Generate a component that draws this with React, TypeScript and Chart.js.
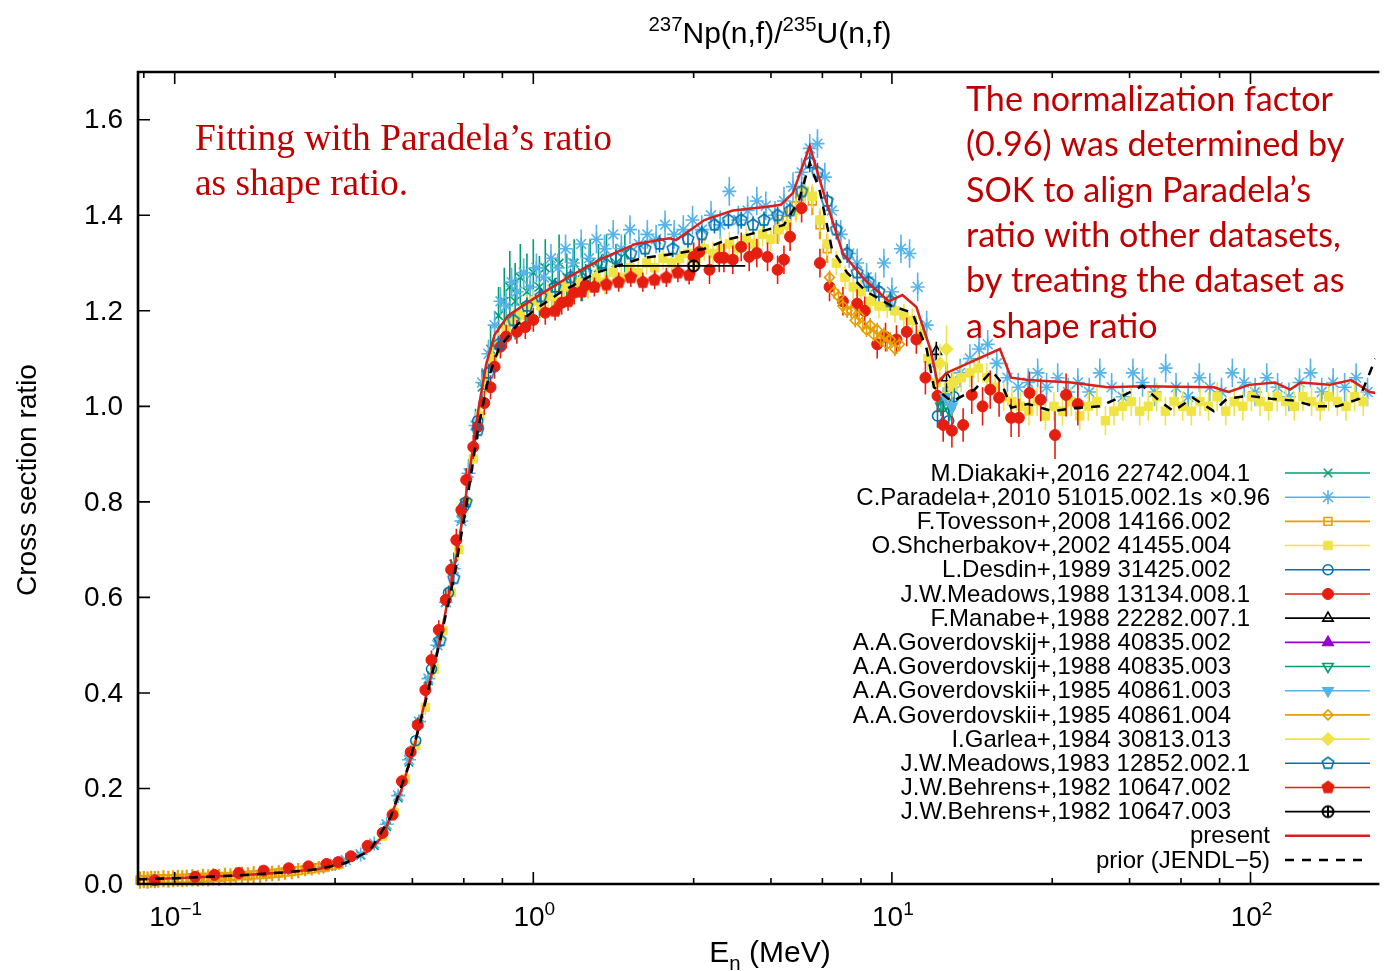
import React, { useEffect, useRef } from "react";
import { Chart, registerables } from "chart.js";
import { drawPoint } from "chart.js/helpers";

Chart.register(...registerables);

// ---------------- axis / tick data ----------------
const X_MIN = 0.079;
const X_MAX = 223;
const Y_MIN = 0;
const Y_MAX = 1.7;
const yTickValues = [0, 0.2, 0.4, 0.6, 0.8, 1.0, 1.2, 1.4, 1.6];
const yTickLabels = ["0.0", "0.2", "0.4", "0.6", "0.8", "1.0", "1.2", "1.4", "1.6"];
const xMajorValues = [0.1, 1, 10, 100];
const xMajorExponents = ["\u22121", "0", "1", "2"];
const xMinorMultipliers = [2.8, 4.6, 6.4, 8.2];

const titleParts = [
  { t: "237", k: "sup" },
  { t: "Np(n,f)/", k: "n" },
  { t: "235", k: "sup" },
  { t: "U(n,f)", k: "n" },
];
const xTitleParts = [
  { t: "E", k: "n" },
  { t: "n", k: "sub" },
  { t: " (MeV)", k: "n" },
];
const yTitle = "Cross section ratio";
const noteLeft = ["Fitting with Paradela\u2019s ratio", "as shape ratio."];
const noteRight = [
  "The normalization factor",
  "(0.96) was determined by",
  "SOK to align Paradela\u2019s",
  "ratio with other datasets,",
  "by treating the dataset as",
  "a shape ratio",
];

// ---------------- series data (E in MeV, ratio, y-uncertainty) ----------------
const diakakiE = [0.33,0.36,0.39,0.42,0.45,0.48,0.51,0.54,0.57,0.60,0.63,0.66,0.69,0.72,0.76,0.80,0.83,0.86,0.89,0.92,0.96,1.00,1.04,1.08,1.13,1.18,1.24,1.30,1.37,1.44,1.52,1.60,1.70,1.80];
const diakakiR = [0.060,0.080,0.120,0.180,0.255,0.335,0.425,0.505,0.590,0.670,0.765,0.860,0.960,1.040,1.120,1.190,1.220,1.250,1.220,1.270,1.240,1.280,1.250,1.290,1.260,1.300,1.270,1.300,1.280,1.300,1.290,1.310,1.300,1.320];
const diakakiErr = [0.005,0.006,0.008,0.010,0.012,0.015,0.018,0.020,0.022,0.024,0.026,0.030,0.035,0.040,0.050,0.060,0.070,0.075,0.080,0.070,0.080,0.070,0.065,0.060,0.055,0.060,0.050,0.050,0.060,0.050,0.050,0.050,0.040,0.040];

const paradelaE = [0.26,0.28,0.30,0.33,0.36,0.39,0.42,0.45,0.48,0.51,0.54,0.57,0.60,0.63,0.66,0.69,0.72,0.75,0.78,0.81,0.84,0.87,0.90,0.94,0.98,1.02,1.07,1.12,1.17,1.23,1.29,1.36,1.43,1.50,1.58,1.67,1.76,1.86,1.97,2.08,2.20,2.33,2.47,2.62,2.78,2.95,3.13,3.32,3.52,3.73,3.96,4.20,4.45,4.72,5.00,5.30,5.60,5.90,6.20,6.50,6.80,7.20,7.60,8.00,8.50,9.00,9.50,10.0,10.6,11.2,11.8,12.5,13.2,13.9,14.7,15.5,16.5,17.5,18.5,19.6,21.0,22.5,24.0,25.5,27.0,29.0,31.0,33.0,35.5,38.0,41.0,44.0,47.0,50.0,54.0,58.0,62.0,67.0,72.0,77.0,83.0,89.0,96.0,103,111,119,128,137,147,158,170,183,197,212];
const paradelaR = [0.036,0.042,0.050,0.062,0.085,0.125,0.185,0.260,0.340,0.430,0.500,0.590,0.660,0.760,0.860,0.960,1.050,1.110,1.170,1.220,1.210,1.260,1.240,1.280,1.250,1.290,1.270,1.310,1.290,1.330,1.300,1.340,1.310,1.350,1.330,1.360,1.330,1.370,1.340,1.360,1.350,1.380,1.360,1.370,1.390,1.370,1.400,1.380,1.450,1.390,1.410,1.430,1.420,1.400,1.430,1.460,1.490,1.540,1.550,1.480,1.410,1.360,1.320,1.300,1.270,1.250,1.300,1.240,1.330,1.320,1.250,1.170,1.090,1.010,1.040,1.070,1.100,1.120,1.130,1.090,1.060,1.040,1.050,1.070,1.040,1.060,1.030,1.050,1.030,1.070,1.040,1.020,1.070,1.050,1.030,1.080,1.040,1.020,1.060,1.040,1.030,1.070,1.050,1.030,1.060,1.040,1.020,1.050,1.070,1.030,1.050,1.040,1.060,1.030];
const paradelaErr = [0.003,0.004,0.004,0.005,0.006,0.008,0.010,0.012,0.014,0.016,0.018,0.020,0.020,0.022,0.024,0.026,0.028,0.030,0.030,0.030,0.030,0.030,0.030,0.030,0.030,0.030,0.030,0.030,0.030,0.030,0.030,0.030,0.030,0.030,0.030,0.030,0.030,0.030,0.030,0.030,0.030,0.030,0.030,0.030,0.030,0.030,0.030,0.030,0.030,0.030,0.030,0.030,0.030,0.030,0.030,0.030,0.030,0.030,0.030,0.030,0.030,0.030,0.030,0.030,0.030,0.030,0.030,0.030,0.030,0.030,0.030,0.030,0.030,0.030,0.030,0.030,0.030,0.030,0.030,0.030,0.030,0.030,0.030,0.030,0.030,0.030,0.030,0.030,0.030,0.030,0.030,0.030,0.030,0.030,0.030,0.030,0.030,0.030,0.030,0.030,0.030,0.030,0.030,0.030,0.030,0.030,0.030,0.030,0.030,0.030,0.030,0.030,0.030,0.030];

const tovessonE = [0.080,0.082,0.084,0.086,0.088,0.090,0.093,0.096,0.099,0.102,0.105,0.108,0.112,0.116,0.120,0.124,0.128,0.133,0.138,0.143,0.148,0.154,0.160,0.166,0.173,0.180,0.187,0.195,0.203,0.212,0.221,0.231,0.241,0.252,0.263,0.275,0.287,4.8,5.1,5.4,5.7,6.0,6.3,6.6];
const tovessonR = [0.008,0.009,0.008,0.010,0.009,0.010,0.011,0.010,0.011,0.012,0.011,0.012,0.013,0.012,0.014,0.013,0.015,0.014,0.016,0.015,0.017,0.018,0.017,0.019,0.020,0.021,0.022,0.023,0.025,0.026,0.028,0.030,0.032,0.034,0.036,0.039,0.042,1.37,1.39,1.42,1.45,1.43,1.38,1.33];
const tovessonErr = [0.018,0.018,0.018,0.018,0.018,0.018,0.018,0.018,0.018,0.018,0.018,0.018,0.018,0.018,0.018,0.018,0.018,0.018,0.018,0.018,0.018,0.018,0.018,0.018,0.018,0.016,0.016,0.016,0.016,0.016,0.016,0.014,0.014,0.014,0.012,0.012,0.012,0.03,0.03,0.03,0.03,0.03,0.03,0.03];

const shcherbakovE = [0.38,0.41,0.44,0.47,0.50,0.53,0.56,0.59,0.62,0.65,0.68,0.71,0.74,0.77,0.80,0.84,0.88,0.92,0.96,1.00,1.05,1.10,1.16,1.22,1.28,1.35,1.42,1.50,1.58,1.67,1.76,1.86,1.96,2.07,2.18,2.30,2.43,2.56,2.70,2.85,3.00,3.17,3.34,3.52,3.71,3.92,4.13,4.36,4.60,4.85,5.10,5.40,5.70,6.00,6.30,6.60,7.00,7.40,7.80,8.20,8.70,9.20,9.70,10.2,10.8,11.4,12.0,12.6,13.3,14.0,14.8,15.6,16.5,17.4,18.4,19.4,20.5,21.6,22.8,24.1,25.4,26.8,28.3,29.9,31.6,33.4,35.3,37.3,39.4,41.6,44.0,46.5,49.1,51.9,54.8,57.9,61.2,64.7,68.4,72.3,76.4,80.7,85.3,90.1,95.2,100.6,106.3,112.3,118.7,125.4,132.5,140.0,148.0,156.4,165.3,174.7,184.6,195.1,206.2];
const shcherbakovR = [0.10,0.15,0.22,0.29,0.37,0.45,0.53,0.61,0.70,0.80,0.89,0.98,1.05,1.10,1.13,1.16,1.18,1.19,1.21,1.22,1.21,1.23,1.22,1.25,1.24,1.26,1.25,1.27,1.26,1.28,1.27,1.29,1.28,1.30,1.29,1.31,1.30,1.31,1.32,1.31,1.33,1.32,1.33,1.34,1.33,1.35,1.34,1.36,1.35,1.37,1.38,1.41,1.45,1.44,1.39,1.34,1.30,1.27,1.25,1.24,1.22,1.21,1.21,1.20,1.19,1.18,1.15,1.10,1.05,1.02,1.04,1.06,1.07,1.08,1.06,1.04,1.02,1.01,1.00,0.99,1.01,0.98,1.00,0.99,1.01,0.98,1.00,1.01,0.97,0.99,1.00,1.01,0.99,1.00,1.02,0.99,1.01,1.00,0.99,1.01,1.00,1.02,0.99,1.01,1.00,1.02,1.01,1.00,1.02,1.01,1.00,1.02,1.01,1.00,1.02,1.01,1.00,1.02,1.01];
const shcherbakovErr = [0.008,0.010,0.012,0.014,0.016,0.018,0.020,0.020,0.022,0.024,0.025,0.025,0.025,0.025,0.025,0.025,0.025,0.025,0.025,0.025,0.025,0.025,0.025,0.025,0.025,0.025,0.025,0.025,0.025,0.025,0.025,0.025,0.025,0.025,0.025,0.025,0.025,0.025,0.025,0.025,0.025,0.025,0.025,0.025,0.025,0.025,0.025,0.025,0.025,0.025,0.025,0.025,0.025,0.025,0.025,0.025,0.025,0.025,0.025,0.025,0.025,0.025,0.025,0.025,0.025,0.025,0.025,0.025,0.030,0.030,0.030,0.030,0.030,0.030,0.030,0.030,0.030,0.030,0.030,0.030,0.030,0.030,0.030,0.030,0.030,0.030,0.030,0.030,0.030,0.030,0.030,0.030,0.030,0.030,0.030,0.030,0.030,0.030,0.030,0.030,0.030,0.030,0.030,0.030,0.030,0.030,0.030,0.030,0.030,0.030,0.030,0.030,0.030,0.030,0.030,0.030,0.030,0.030,0.030];

const desdinE = [0.47,0.52,0.58,0.64,0.70,13.4,13.9,14.4,14.9];
const desdinR = [0.30,0.45,0.61,0.79,0.97,0.98,1.00,0.97,1.02];
const desdinErr = [0.010,0.012,0.015,0.018,0.020,0.025,0.025,0.025,0.025];

const meadows88E = [0.088,0.114,0.129,0.151,0.177,0.208,0.236,0.265,0.286,0.31,0.345,0.38,0.405,0.43,0.455,0.476,0.50,0.52,0.545,0.57,0.59,0.61,0.63,0.65,0.68,0.70,0.73,0.76,0.78,0.81,0.84,0.90,0.95,1.00,1.08,1.20,1.30,1.40,2.80,2.90,3.10,3.30,3.40,3.60,3.80,4.00,4.20,4.50,4.80,5.00,5.20,5.60,6.30,6.70,7.30,8.00,8.40,9.10,9.60,10.3,11.0,11.7,12.4,13.4,13.9,14.7,15.8,16.7,17.9,18.8,19.9,21.5,22.6,24.2,26.0,28.5,30.6,33.0];
const meadows88R = [0.008,0.015,0.019,0.023,0.028,0.033,0.037,0.042,0.046,0.058,0.080,0.107,0.145,0.215,0.276,0.333,0.406,0.469,0.532,0.595,0.658,0.720,0.783,0.846,0.915,0.957,1.007,1.040,1.083,1.125,1.146,1.156,1.166,1.181,1.196,1.217,1.238,1.254,1.313,1.323,1.286,1.311,1.311,1.307,1.334,1.313,1.321,1.313,1.286,1.307,1.355,1.415,1.300,1.250,1.220,1.215,1.200,1.130,1.145,1.140,1.156,1.140,1.060,1.022,0.961,0.949,0.961,1.024,1.000,1.035,1.018,0.976,0.976,1.028,1.014,0.940,1.024,1.005];
const meadows88Err = [0.003,0.003,0.003,0.003,0.003,0.004,0.004,0.004,0.005,0.006,0.007,0.008,0.010,0.012,0.014,0.016,0.018,0.020,0.020,0.022,0.022,0.024,0.024,0.025,0.025,0.025,0.025,0.025,0.025,0.025,0.025,0.025,0.025,0.025,0.025,0.025,0.025,0.025,0.030,0.030,0.030,0.030,0.030,0.030,0.030,0.030,0.030,0.030,0.030,0.030,0.030,0.030,0.030,0.030,0.030,0.030,0.030,0.030,0.030,0.030,0.030,0.030,0.035,0.035,0.035,0.035,0.035,0.040,0.040,0.040,0.040,0.040,0.040,0.045,0.045,0.050,0.045,0.045];

const manabeE = [13.3, 14.2];
const manabeR = [1.115, 1.060];
const manabeErr = [0.020, 0.030];

const gov835a_E: number[] = [];
const gov835a_R: number[] = [];
const gov835a_Err: number[] = [];

const gov835b_E = [13.7, 14.5];
const gov835b_R = [1.00, 0.99];
const gov835b_Err = [0.02, 0.02];

const gov861a_E = [14.1, 14.7];
const gov861a_R = [1.02, 1.00];
const gov861a_Err = [0.02, 0.02];

const gov861b_E = [6.7,6.9,7.1,7.3,7.5,7.7,7.9,8.1,8.3,8.5,8.7,8.9,9.1,9.3,9.5,9.7,9.9,10.2,10.5];
const gov861b_R = [1.27,1.24,1.23,1.21,1.20,1.20,1.18,1.19,1.17,1.16,1.17,1.15,1.16,1.14,1.15,1.13,1.14,1.12,1.13];
const gov861b_Err = [0.015,0.015,0.015,0.015,0.015,0.015,0.015,0.015,0.015,0.015,0.015,0.015,0.015,0.015,0.015,0.015,0.015,0.015,0.015];

const garleaE = [13.6, 14.2, 14.8];
const garleaR = [1.09, 1.12, 1.05];
const garleaErr = [0.04, 0.05, 0.03];

const meadows83E = [0.55,0.60,0.65,0.70,0.75,0.80,0.88,0.96,1.05,1.15,1.27,1.40,1.55,1.70,1.87,2.05,2.25,2.45,2.70,2.95,3.20,3.50,3.80,4.10,4.40,4.80,5.20,5.60,5.90,6.20,6.60,7.00,7.50,8.00,8.60,9.20,9.90];
const meadows83R = [0.51,0.64,0.80,0.95,1.07,1.13,1.18,1.21,1.23,1.25,1.27,1.28,1.30,1.31,1.32,1.33,1.34,1.33,1.35,1.36,1.38,1.39,1.39,1.38,1.39,1.40,1.41,1.45,1.51,1.49,1.43,1.37,1.32,1.28,1.26,1.24,1.22];
const meadows83Err = [0.012,0.014,0.016,0.018,0.018,0.018,0.018,0.018,0.018,0.018,0.018,0.018,0.018,0.018,0.018,0.018,0.018,0.018,0.018,0.018,0.018,0.018,0.018,0.018,0.018,0.018,0.018,0.020,0.020,0.020,0.020,0.020,0.020,0.020,0.020,0.020,0.020];

const behrens2E = [1.15,1.25,1.36,1.48,1.60,1.73,1.87,2.02,2.18,2.35,2.53,2.72];
const behrens2R = [1.20,1.22,1.24,1.25,1.255,1.26,1.27,1.26,1.265,1.27,1.28,1.275];
const behrens2Err = [0.02,0.02,0.02,0.02,0.02,0.02,0.02,0.02,0.02,0.02,0.02,0.02];

const behrens3E = [2.8];
const behrens3R = [1.294];
const behrens3Err = [0.008];
const behrens3ELow = [1.69];
const behrens3EHigh = [3.9];

const presentE = [0.079,0.10,0.15,0.20,0.25,0.30,0.35,0.38,0.43,0.47,0.505,0.545,0.58,0.615,0.645,0.675,0.705,0.74,0.78,0.85,1.0,1.25,1.56,1.93,2.4,2.5,3.0,3.6,4.5,4.9,5.3,5.9,6.55,7.3,8.4,9.8,10.7,11.7,12.8,13.4,14.2,20.0,21.5,24.0,31.6,40.0,50.0,79.0,87.0,99.0,117,129,138,166,191,215,223];
const presentR = [0.010,0.012,0.018,0.024,0.031,0.045,0.070,0.100,0.200,0.300,0.400,0.500,0.600,0.700,0.800,0.900,1.000,1.090,1.150,1.190,1.225,1.270,1.310,1.340,1.352,1.348,1.390,1.410,1.418,1.422,1.447,1.545,1.430,1.320,1.265,1.220,1.233,1.208,1.120,1.050,1.070,1.120,1.060,1.055,1.050,1.040,1.042,1.040,1.030,1.045,1.050,1.035,1.050,1.045,1.055,1.030,1.028];

const priorE = [0.079,0.10,0.15,0.20,0.25,0.30,0.35,0.40,0.45,0.50,0.55,0.60,0.65,0.70,0.75,0.80,0.90,1.0,1.2,1.5,2.0,2.5,3.0,3.5,4.0,4.5,5.0,5.5,5.9,6.3,6.8,7.5,8.5,10.0,11.4,12.5,13.1,14.7,17.0,19.0,20.2,21.5,24.0,28.0,33.0,38.0,43.0,50.0,56.0,61.0,69.0,79.0,86.0,99.0,114,132,152,175,201,215,223];
const priorR = [0.010,0.012,0.018,0.024,0.031,0.044,0.070,0.140,0.250,0.380,0.510,0.640,0.790,0.950,1.060,1.120,1.170,1.200,1.240,1.280,1.310,1.320,1.330,1.350,1.360,1.370,1.380,1.430,1.510,1.450,1.330,1.280,1.240,1.210,1.196,1.120,1.040,1.010,1.035,1.074,1.050,0.997,1.005,0.990,0.997,1.000,1.018,1.043,1.010,0.990,1.018,0.990,1.016,1.022,1.016,1.012,1.000,1.000,1.016,1.070,1.100];

// ---------------- styles ----------------
const FONT = '"Liberation Sans", Arial, Helvetica, sans-serif';
const W = 1384;
const H = 971;
const PLOT_LEFT = 138;
const PLOT_TOP = 72;
const PLOT_BOTTOM = 884;

type Series = {
  label: string;
  E: number[];
  R: number[];
  err: number[];
  eLo?: number[];
  eHi?: number[];
  color: string;
  marker: string;
  filled: boolean;
  radius: number;
  rotation?: number;
  shift: number;
};

const seriesList: Series[] = [
  { label: "M.Diakaki+,2016 22742.004.1", E: diakakiE, R: diakakiR, err: diakakiErr, color: "#009e73", marker: "crossRot", filled: false, radius: 6, shift: 19 },
  { label: "C.Paradela+,2010 51015.002.1s \u00d70.96", E: paradelaE, R: paradelaR, err: paradelaErr, color: "#56b4e9", marker: "star", filled: false, radius: 7, shift: 39 },
  { label: "F.Tovesson+,2008 14166.002", E: tovessonE, R: tovessonR, err: tovessonErr, color: "#e69f00", marker: "rect", filled: false, radius: 5.5, shift: 0 },
  { label: "O.Shcherbakov+,2002 41455.004", E: shcherbakovE, R: shcherbakovR, err: shcherbakovErr, color: "#f0e442", marker: "rect", filled: true, radius: 6, shift: 0 },
  { label: "L.Desdin+,1989 31425.002", E: desdinE, R: desdinR, err: desdinErr, color: "#0072b2", marker: "circle", filled: false, radius: 5, shift: 0 },
  { label: "J.W.Meadows,1988 13134.008.1", E: meadows88E, R: meadows88R, err: meadows88Err, color: "#e51e10", marker: "circle", filled: true, radius: 5.5, shift: 19 },
  { label: "F.Manabe+,1988 22282.007.1", E: manabeE, R: manabeR, err: manabeErr, color: "#000000", marker: "triangle", filled: false, radius: 6, shift: 19 },
  { label: "A.A.Goverdovskij+,1988 40835.002", E: gov835a_E, R: gov835a_R, err: gov835a_Err, color: "#9400d3", marker: "triangle", filled: true, radius: 6, shift: 0 },
  { label: "A.A.Goverdovskij+,1988 40835.003", E: gov835b_E, R: gov835b_R, err: gov835b_Err, color: "#009e73", marker: "triangle", filled: false, radius: 6, rotation: 180, shift: 0 },
  { label: "A.A.Goverdovskii+,1985 40861.003", E: gov861a_E, R: gov861a_R, err: gov861a_Err, color: "#56b4e9", marker: "triangle", filled: true, radius: 6, rotation: 180, shift: 0 },
  { label: "A.A.Goverdovskii+,1985 40861.004", E: gov861b_E, R: gov861b_R, err: gov861b_Err, color: "#e69f00", marker: "rectRot", filled: false, radius: 5, shift: 0 },
  { label: "I.Garlea+,1984 30813.013", E: garleaE, R: garleaR, err: garleaErr, color: "#f0e442", marker: "rectRot", filled: true, radius: 6, shift: 0 },
  { label: "J.W.Meadows,1983 12852.002.1", E: meadows83E, R: meadows83R, err: meadows83Err, color: "#0072b2", marker: "pentagon", filled: false, radius: 6, shift: 19 },
  { label: "J.W.Behrens+,1982 10647.002", E: behrens2E, R: behrens2R, err: behrens2Err, color: "#e51e10", marker: "pentagon", filled: true, radius: 6, shift: 0 },
  { label: "J.W.Behrens+,1982 10647.003", E: behrens3E, R: behrens3R, err: behrens3Err, eLo: behrens3ELow, eHi: behrens3EHigh, color: "#000000", marker: "circlePlus", filled: false, radius: 6, shift: 0 },
];

const lineSeries = [
  { label: "present", E: presentE, R: presentR, color: "#d9201c", width: 2.5, dash: [] as number[], shift: 39 },
  { label: "prior (JENDL\u22125)", E: priorE, R: priorR, color: "#000000", width: 2.5, dash: [9, 8], shift: 39 },
];

const LEGEND = { top: 473, step: 24.19, textRight: 1231, lineX0: 1285, lineX1: 1370, markX: 1328, font: 24 };

// ---------------- helpers ----------------
function makeMarker(kind: string, color: string, filled: boolean, r: number): HTMLCanvasElement {
  const lw = 1.6;
  const size = Math.ceil(2 * r + 2 * lw + 2);
  const c = document.createElement("canvas");
  c.width = size;
  c.height = size;
  const g = c.getContext("2d")!;
  const cx = size / 2;
  const cy = size / 2;
  g.strokeStyle = color;
  g.fillStyle = color;
  g.lineWidth = lw;
  if (kind === "pentagon") {
    g.beginPath();
    for (let i = 0; i < 5; i++) {
      const a = -Math.PI / 2 + (i * 2 * Math.PI) / 5;
      const px = cx + r * Math.cos(a);
      const py = cy + r * Math.sin(a);
      if (i === 0) g.moveTo(px, py);
      else g.lineTo(px, py);
    }
    g.closePath();
    if (filled) g.fill();
    g.stroke();
  } else if (kind === "circlePlus") {
    g.lineWidth = 2;
    g.beginPath();
    g.arc(cx, cy, r - 0.5, 0, Math.PI * 2);
    g.stroke();
    g.beginPath();
    g.moveTo(cx - r + 1, cy);
    g.lineTo(cx + r - 1, cy);
    g.moveTo(cx, cy - r + 1);
    g.lineTo(cx, cy + r - 1);
    g.stroke();
  }
  return c;
}

type Part = { t: string; k: string };
function drawRich(ctx: CanvasRenderingContext2D, parts: Part[], x: number, y: number, align: string, size: number) {
  const small = size * 0.68;
  let total = 0;
  const widths = parts.map((p) => {
    ctx.font = `${p.k === "n" ? size : small}px ${FONT}`;
    const w = ctx.measureText(p.t).width;
    total += w;
    return w;
  });
  let cx = align === "center" ? x - total / 2 : align === "right" ? x - total : x;
  ctx.textAlign = "left";
  ctx.textBaseline = "alphabetic";
  parts.forEach((p, i) => {
    ctx.font = `${p.k === "n" ? size : small}px ${FONT}`;
    const dy = p.k === "sup" ? -size * 0.4 : p.k === "sub" ? size * 0.25 : 0;
    ctx.fillText(p.t, cx, y + dy);
    cx += widths[i];
  });
}

const errorBarPlugin = {
  id: "errorBars",
  beforeDatasetDraw(chart: any, args: any) {
    const ds = chart.data.datasets[args.index];
    if (!ds.errs) return;
    const { ctx, chartArea: ca } = chart;
    const xs = chart.scales.x;
    const ys = chart.scales.y;
    ctx.save();
    ctx.beginPath();
    ctx.rect(ca.left, ca.top, ca.right - ca.left, ca.bottom - ca.top + 6);
    ctx.clip();
    ctx.strokeStyle = ds.errColor;
    ctx.lineWidth = ds.errWidth || 1.6;
    ctx.beginPath();
    ds.data.forEach((p: any, i: number) => {
      const e = ds.errs[i] || 0;
      const px = xs.getPixelForValue(p.x);
      ctx.moveTo(px, ys.getPixelForValue(p.y - e));
      ctx.lineTo(px, ys.getPixelForValue(p.y + e));
      if (ds.eLo && ds.eHi) {
        const py = ys.getPixelForValue(p.y);
        ctx.moveTo(xs.getPixelForValue(ds.eLo[i]), py);
        ctx.lineTo(xs.getPixelForValue(ds.eHi[i]), py);
      }
    });
    ctx.stroke();
    ctx.restore();
  },
};

function fitFont(ctx: CanvasRenderingContext2D, family: string, text: string, width: number) {
  ctx.font = `100px ${family}`;
  return (100 * width) / ctx.measureText(text).width;
}

const decorPlugin = {
  id: "decor",
  afterDraw(chart: any) {
    const { ctx, chartArea: ca } = chart;
    const xs = chart.scales.x;
    const ys = chart.scales.y;
    ctx.save();
    ctx.fillStyle = "#000";
    ctx.strokeStyle = "#000";

    // border
    ctx.lineWidth = 2.6;
    ctx.beginPath();
    ctx.moveTo(ca.right + 4, ca.top);
    ctx.lineTo(ca.left, ca.top);
    ctx.lineTo(ca.left, ca.bottom);
    ctx.lineTo(ca.right + 4, ca.bottom);
    ctx.stroke();

    // x ticks
    ctx.lineWidth = 1.6;
    ctx.beginPath();
    const minorAt = (mv: number) => {
      if (mv < X_MIN || mv > X_MAX) return;
      const mx = xs.getPixelForValue(mv);
      ctx.moveTo(mx, ca.bottom);
      ctx.lineTo(mx, ca.bottom - 6);
      ctx.moveTo(mx, ca.top);
      ctx.lineTo(mx, ca.top + 6);
    };
    xMajorValues.forEach((v) => {
      const px = xs.getPixelForValue(v);
      ctx.moveTo(px, ca.bottom);
      ctx.lineTo(px, ca.bottom - 12);
      ctx.moveTo(px, ca.top);
      ctx.lineTo(px, ca.top + 12);
      xMinorMultipliers.forEach((m) => minorAt(v * m));
    });
    xMinorMultipliers.forEach((m) => minorAt(0.01 * m));
    // y ticks
    yTickValues.forEach((v) => {
      const py = ys.getPixelForValue(v);
      ctx.moveTo(ca.left, py);
      ctx.lineTo(ca.left + 12, py);
    });
    ctx.stroke();

    // y tick labels
    ctx.font = `28px ${FONT}`;
    ctx.textAlign = "right";
    ctx.textBaseline = "middle";
    yTickValues.forEach((v, i) => {
      ctx.fillText(yTickLabels[i], 123, ys.getPixelForValue(v) + 1);
    });

    // x tick labels
    xMajorValues.forEach((v, i) => {
      const px = xs.getPixelForValue(v);
      drawRich(ctx, [{ t: "10", k: "n" }, { t: xMajorExponents[i], k: "sup" }], px + 1, 926, "center", 28);
    });

    // axis titles
    drawRich(ctx, xTitleParts, 770, 962, "center", 30);
    ctx.save();
    ctx.translate(36, 480);
    ctx.rotate(-Math.PI / 2);
    ctx.font = `28px ${FONT}`;
    ctx.textAlign = "center";
    ctx.textBaseline = "alphabetic";
    ctx.fillText(yTitle, 0, 0);
    ctx.restore();

    // title
    drawRich(ctx, titleParts, 770, 43, "center", 30);

    // legend
    const entriesCount = seriesList.length + lineSeries.length;
    ctx.textAlign = "right";
    ctx.textBaseline = "middle";
    for (let i = 0; i < entriesCount; i++) {
      const yy = LEGEND.top + i * LEGEND.step;
      if (i < seriesList.length) {
        const s = seriesList[i];
        ctx.fillStyle = "#000";
        ctx.font = `${LEGEND.font}px ${FONT}`;
        ctx.fillText(s.label, LEGEND.textRight + s.shift, yy + 1);
        ctx.strokeStyle = s.color;
        ctx.lineWidth = 1.6;
        ctx.setLineDash([]);
        ctx.beginPath();
        ctx.moveTo(LEGEND.lineX0, yy);
        ctx.lineTo(LEGEND.lineX1, yy);
        ctx.stroke();
        const ds = chart.data.datasets[i];
        ctx.fillStyle = ds.pointBackgroundColor;
        ctx.strokeStyle = s.color;
        ctx.lineWidth = ds.pointBorderWidth;
        drawPoint(ctx, { pointStyle: ds.pointStyle, rotation: ds.pointRotation || 0, radius: ds.pointRadius, borderWidth: ds.pointBorderWidth } as any, LEGEND.markX, yy);
      } else {
        const l = lineSeries[i - seriesList.length];
        ctx.fillStyle = "#000";
        ctx.font = `${LEGEND.font}px ${FONT}`;
        ctx.fillText(l.label, LEGEND.textRight + l.shift, yy + 1);
        ctx.strokeStyle = l.color;
        ctx.lineWidth = l.width;
        ctx.setLineDash(l.dash);
        ctx.beginPath();
        ctx.moveTo(LEGEND.lineX0, yy);
        ctx.lineTo(LEGEND.lineX1, yy);
        ctx.stroke();
        ctx.setLineDash([]);
      }
    }

    // annotations
    ctx.fillStyle = "#c00000";
    ctx.textAlign = "left";
    ctx.textBaseline = "alphabetic";
    const serif = '"Liberation Serif", "Times New Roman", serif';
    const fsL = fitFont(ctx, serif, noteLeft[0], 417);
    ctx.font = `${fsL}px ${serif}`;
    ctx.fillText(noteLeft[0], 195, 150);
    ctx.fillText(noteLeft[1], 195, 195);

    const sans = 'Lato, "Open Sans", sans-serif';
    const fsR = fitFont(ctx, sans, noteRight[0], 367);
    ctx.font = `${fsR}px ${sans}`;
    noteRight.forEach((line, i) => {
      ctx.fillText(line, 966, 111 + i * 45.3);
    });

    ctx.restore();
  },
};

export default function App() {
  const ref = useRef<HTMLCanvasElement | null>(null);

  useEffect(() => {
    const canvas = ref.current;
    if (!canvas) return;

    const datasets: any[] = [];
    const total = seriesList.length + lineSeries.length;
    seriesList.forEach((s, idx) => {
      let pointStyle: any = s.marker;
      if (s.marker === "pentagon" || s.marker === "circlePlus") {
        pointStyle = makeMarker(s.marker, s.color, s.filled, s.radius);
      }
      datasets.push({
        label: s.label,
        data: s.E.map((e, i) => ({ x: e, y: s.R[i] })),
        errs: s.err,
        eLo: s.eLo,
        eHi: s.eHi,
        errColor: s.color,
        errWidth: s.marker === "rect" && !s.filled ? 2.2 : 1.6,
        showLine: false,
        pointStyle,
        pointRadius: s.radius,
        pointRotation: s.rotation || 0,
        pointBorderColor: s.color,
        pointBackgroundColor: s.filled ? s.color : "rgba(0,0,0,0)",
        pointBorderWidth: s.filled && (s.marker === "rect" || s.marker === "circle") ? 1 : 1.6,
        order: total - idx,
        clip: 6,
      });
    });
    lineSeries.forEach((l, j) => {
      datasets.push({
        label: l.label,
        data: l.E.map((e, i) => ({ x: e, y: l.R[i] })),
        showLine: true,
        pointRadius: 0,
        borderColor: l.color,
        borderWidth: l.width,
        borderDash: l.dash,
        fill: false,
        tension: 0,
        order: total - seriesList.length - j,
        clip: 0,
      });
    });

    const chart = new Chart(canvas, {
      type: "scatter",
      data: { datasets },
      options: {
        animation: false,
        responsive: false,
        maintainAspectRatio: false,
        events: [],
        layout: { padding: { top: PLOT_TOP, left: 0, right: 0, bottom: 0 } },
        scales: {
          x: {
            type: "logarithmic",
            min: X_MIN,
            max: X_MAX,
            grid: { display: false },
            border: { display: false },
            ticks: { display: false },
            afterFit: (s: any) => {
              s.height = H - PLOT_BOTTOM;
            },
          },
          y: {
            type: "linear",
            min: Y_MIN,
            max: Y_MAX,
            grid: { display: false },
            border: { display: false },
            ticks: { display: false },
            afterFit: (s: any) => {
              s.width = PLOT_LEFT;
            },
          },
        },
        plugins: {
          legend: { display: false },
          tooltip: { enabled: false },
          title: { display: false },
        },
      } as any,
      plugins: [errorBarPlugin, decorPlugin],
    });

    return () => chart.destroy();
  }, []);

  return (
    <div style={{ position: "fixed", left: 0, top: 0, width: W, height: H, background: "#fff" }}>
      <canvas ref={ref} width={W} height={H} style={{ display: "block", width: W, height: H }} />
    </div>
  );
}
